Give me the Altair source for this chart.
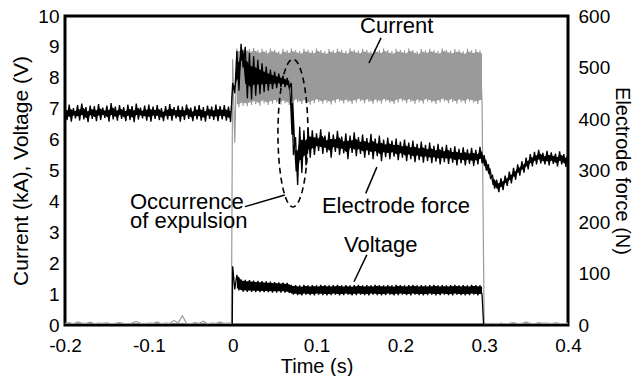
import altair as alt
import numpy as np
import pandas as pd

FONT = "Liberation Sans"

# ---------------- data ----------------
STEP = 0.005

# Electrode force (N), envelope of the noisy trace, t = -0.2 .. 0.4 every 0.005 s
force_t0 = -0.2
force_hi = [424, 428, 421, 427, 430, 423, 426, 425, 429, 422,
            426, 431, 424, 427, 423, 428, 425, 430, 422, 426,
            428, 424, 427, 421, 425, 429, 423, 426, 424, 428,
            422, 425, 427, 423, 426, 424, 428, 425, 427, 424,
            470, 532, 546, 540, 528, 522, 515, 508, 502, 496,
            492, 488, 484, 480, 470, 365, 385, 378, 382,
            378, 372, 380, 368, 375, 370, 377, 366, 372, 368,
            374, 365, 370, 363, 371, 362, 368, 360, 364, 358,
            362, 356, 360, 354, 358, 352, 356, 350, 354, 348,
            352, 346, 350, 344, 347, 342, 345, 341, 344, 340, 346,
            330, 312, 290, 282, 285, 290, 298, 305, 312, 318,
            325, 332, 336, 340, 334, 338, 335, 333, 337, 332, 335]
force_lo = [398, 395, 401, 397, 399, 394, 400, 396, 398, 402,
            395, 399, 397, 400, 396, 398, 394, 399, 401, 397,
            395, 400, 398, 396, 399, 397, 401, 395, 398, 400,
            396, 399, 397, 395, 400, 398, 396, 399, 397, 394,
            450, 455, 500, 440, 438, 445, 448, 452, 455, 458,
            460, 462, 462, 460, 330, 272, 295, 310, 325,
            330, 338, 332, 335, 325, 336, 330, 333, 322, 334,
            328, 332, 325, 330, 322, 328, 318, 326, 322, 327,
            320, 325, 318, 322, 316, 320, 315, 318, 314, 317,
            312, 316, 313, 315, 310, 314, 310, 313, 309, 312, 314,
            300, 285, 265, 258, 262, 270, 275, 282, 290, 296,
            302, 308, 312, 314, 312, 310, 313, 308, 312, 307, 315]

# Current (kA): baseline before and after the weld, band envelope during the weld
cur_pre = [0.05, 0.08, 0.04, 0.10, 0.06, 0.05, 0.09, 0.04, 0.06, 0.05,
           0.07, 0.04, 0.05, 0.08, 0.05, 0.04, 0.06, 0.12, 0.05, 0.04,
           0.06, 0.05, 0.10, 0.04, 0.06, 0.05, 0.15, 0.06, 0.30, 0.05,
           0.04, 0.08, 0.05, 0.12, 0.04, 0.06, 0.05, 0.10, 0.05, 0.06]
cur_hi = [8.60, 8.95, 9.02, 8.98, 8.93, 8.96, 8.90, 8.94, 8.88, 8.95,
          8.91, 8.86, 8.93, 8.89, 8.95, 8.90, 8.87, 8.94, 8.91, 8.88,
          8.95, 8.90, 8.86, 8.93, 8.89, 8.94, 8.90, 8.87, 8.95, 8.91,
          8.88, 8.94, 8.90, 8.86, 8.93, 8.89, 8.95, 8.90, 8.87, 8.94,
          8.91, 8.88, 8.95, 8.90, 8.86, 8.93, 8.89, 8.94, 8.90, 8.87,
          8.95, 8.91, 8.88, 8.93, 8.90, 8.86, 8.94, 8.89, 8.92, 8.88]
cur_lo = [5.90, 7.05, 7.10, 7.08, 7.12, 7.15, 7.10, 7.18, 7.12, 7.16,
          7.20, 7.14, 7.18, 7.12, 7.17, 7.21, 7.15, 7.19, 7.13, 7.18,
          7.22, 7.16, 7.20, 7.14, 7.19, 7.23, 7.17, 7.21, 7.15, 7.20,
          7.24, 7.18, 7.22, 7.16, 7.21, 7.17, 7.23, 7.19, 7.15, 7.20,
          7.24, 7.18, 7.22, 7.16, 7.21, 7.17, 7.23, 7.19, 7.15, 7.20,
          7.24, 7.18, 7.22, 7.16, 7.21, 7.17, 7.23, 7.19, 7.15, 7.20]
cur_post = [0.02, 0.04, 0.05, 0.03, 0.06, 0.04, 0.05, 0.08, 0.04, 0.05,
            0.10, 0.05, 0.04, 0.08, 0.05, 0.06, 0.04, 0.07, 0.05, 0.04, 0.06]

# Voltage (V): band envelope during the weld, t = 0 .. 0.295
volt_hi = [1.90, 1.62, 1.48, 1.46, 1.45, 1.44, 1.43, 1.42, 1.41, 1.40,
           1.39, 1.38, 1.37, 1.36, 1.30, 1.29, 1.28, 1.30, 1.28, 1.29,
           1.28, 1.30, 1.29, 1.28, 1.29, 1.30, 1.28, 1.29, 1.28, 1.29,
           1.30, 1.28, 1.29, 1.28, 1.30, 1.29, 1.28, 1.29, 1.28, 1.30,
           1.29, 1.28, 1.29, 1.30, 1.28, 1.29, 1.28, 1.29, 1.30, 1.28,
           1.29, 1.28, 1.29, 1.30, 1.28, 1.29, 1.28, 1.30, 1.29, 1.28]
volt_lo = [1.15, 1.12, 1.08, 1.07, 1.07, 1.06, 1.06, 1.06, 1.06, 1.05,
           1.05, 1.05, 1.05, 1.04, 0.98, 0.97, 0.96, 0.98, 0.97, 0.96,
           0.98, 0.97, 0.96, 0.97, 0.98, 0.96, 0.97, 0.98, 0.96, 0.97,
           0.98, 0.97, 0.96, 0.98, 0.97, 0.96, 0.97, 0.98, 0.96, 0.97,
           0.98, 0.97, 0.96, 0.98, 0.97, 0.96, 0.97, 0.98, 0.96, 0.97,
           0.98, 0.97, 0.96, 0.98, 0.97, 0.96, 0.97, 0.98, 0.96, 0.97]

# annotations (left-axis units)
label_text = ["Current", "Electrode force", "Voltage", "Occurrence\nof expulsion"]
label_t = [0.1519, 0.1065, 0.1328, -0.1225]
label_y = [9.68, 3.85, 2.60, 3.99]

leader_t = [0.177, 0.172, 0.160, 0.0147]
leader_y = [9.29, 5.11, 2.27, 3.83]
leader_t2 = [0.1626, 0.1587, 0.1447, 0.0623]
leader_y2 = [8.48, 4.26, 1.40, 4.21]

ellipse_center = (0.0719, 6.21)
ellipse_radii = (0.0179, 2.39)

x_ticks = [-0.2, -0.1, 0.0, 0.1, 0.2, 0.3, 0.4]
y_left_ticks = list(range(0, 11))
y_right_ticks = [0, 100, 200, 300, 400, 500, 600]


# ---------------- tables ----------------
def zigzag(t0, hi, lo):
    rows = []
    for k, (h, l) in enumerate(zip(hi, lo)):
        t = t0 + k * STEP
        rows.append((round(t, 5), h))
        rows.append((round(t + STEP / 2, 5), l))
    return rows


def core_band(t0, hi, lo, inset):
    """solid inner part of a noisy band (inset = fraction of the envelope removed at each edge)"""
    rows = []
    for k, (h, l) in enumerate(zip(hi, lo)):
        t = t0 + k * STEP
        r = h - l
        rows.append((round(t, 5), l + inset * r, h - inset * r))
        rows.append((round(t + STEP / 2, 5), l + inset * r, h - inset * r))
    return rows


# force
force_df = pd.DataFrame(zigzag(force_t0, force_hi, force_lo), columns=["t", "f"])
force_df["i"] = range(len(force_df))
force_core = pd.DataFrame(core_band(force_t0, force_hi, force_lo, 0.28), columns=["t", "f", "f2"])

# current
cur_rows = [(round(-0.2 + k * STEP, 5), v) for k, v in enumerate(cur_pre)]
cur_rows.append((-0.0015, 0.05))
cur_rows += zigzag(0.0, cur_hi, cur_lo)
cur_rows += [(round(0.3 + k * STEP, 5), v) for k, v in enumerate(cur_post)]
cur_df = pd.DataFrame(cur_rows, columns=["t", "y"])
cur_df["i"] = range(len(cur_df))
cur_core = pd.DataFrame(core_band(0.0, cur_hi[1:], cur_lo[1:], 0.05), columns=["t", "y", "y2"])
cur_core["t"] = cur_core["t"] + STEP

# voltage
volt_rows = [(-0.2, 0.0), (-0.0005, 0.0)]
volt_rows += zigzag(0.0, volt_hi, volt_lo)
volt_rows += [(0.2995, -0.08), (0.3005, 0.0), (0.4, 0.0)]
volt_df = pd.DataFrame(volt_rows, columns=["t", "y"])
volt_df["i"] = range(len(volt_df))
volt_core = pd.DataFrame(core_band(0.0, volt_hi[1:], volt_lo[1:], 0.12), columns=["t", "y", "y2"])
volt_core["t"] = volt_core["t"] + STEP

# ellipse outline (annotation shape)
ang = np.linspace(0, 2 * np.pi, 97)
ell_df = pd.DataFrame({
    "t": ellipse_center[0] + ellipse_radii[0] * np.cos(ang),
    "y": ellipse_center[1] + ellipse_radii[1] * np.sin(ang),
    "i": range(len(ang)),
})

lab_df = pd.DataFrame({"t": label_t, "y": label_y, "txt": label_text})
lead_df = pd.DataFrame({"t": leader_t, "y": leader_y, "t2": leader_t2, "y2": leader_y2})

# ---------------- encodings ----------------
x_enc = alt.X(
    "t:Q",
    scale=alt.Scale(domain=[-0.2, 0.4], nice=False, zero=False),
    axis=alt.Axis(
        values=x_ticks,
        labelExpr="datum.value == 0 ? '0' : (datum.value < 0 ? '-' + format(-datum.value, '.1f') : format(datum.value, '.1f'))",
        labelFlush=False,
        title="Time (s)",
        labelPadding=11,
        titlePadding=1,
    ),
)
y_left = alt.Y(
    "y:Q",
    scale=alt.Scale(domain=[0, 10], nice=False),
    axis=alt.Axis(
        values=y_left_ticks,
        title="Current (kA), Voltage (V)",
        titleFontSize=21,
        labelPadding=6,
        titlePadding=6,
    ),
)
y_right = alt.Y(
    "f:Q",
    scale=alt.Scale(domain=[0, 600], nice=False),
    axis=alt.Axis(
        orient="right",
        values=y_right_ticks,
        title="Electrode force (N)",
        labelPadding=10,
        titlePadding=2,
    ),
)

GRAY = "#9a9a9a"
current_core = alt.Chart(cur_core).mark_area(color=GRAY, opacity=1, clip=True).encode(
    x=x_enc, y=y_left, y2="y2:Q")
current = alt.Chart(cur_df).mark_line(color=GRAY, strokeWidth=1.2, clip=True).encode(
    x=x_enc, y=y_left, order="i:Q")
voltage_core = alt.Chart(volt_core).mark_area(color="black", opacity=1, clip=True).encode(
    x=x_enc, y=y_left, y2="y2:Q")
voltage = alt.Chart(volt_df).mark_line(color="black", strokeWidth=1.3, clip=True).encode(
    x=x_enc, y=y_left, order="i:Q")
ellipse = alt.Chart(ell_df).mark_line(color="black", strokeWidth=1.6, strokeDash=[6, 4]).encode(
    x=x_enc, y=y_left, order="i:Q")
leaders = alt.Chart(lead_df).mark_rule(color="black", strokeWidth=1.5).encode(
    x=x_enc, y=y_left, x2="t2:Q", y2="y2:Q")
labels = alt.Chart(lab_df).mark_text(
    font=FONT, fontSize=22, align="left", baseline="middle", color="black",
    lineBreak="\n", lineHeight=19,
).encode(x=x_enc, y=y_left, text="txt:N")

left = alt.layer(current_core, current, voltage_core, voltage, ellipse, leaders, labels)

force_band = alt.Chart(force_core).mark_area(color="black", opacity=1, clip=True).encode(
    x=x_enc, y=y_right, y2="f2:Q")
force = alt.Chart(force_df).mark_line(color="black", strokeWidth=1.3, clip=True).encode(
    x=x_enc, y=y_right, order="i:Q")
right = alt.layer(force_band, force)

chart = (
    alt.layer(left, right)
    .resolve_scale(y="independent")
    .properties(
        width=503,
        height=309,
        autosize=alt.AutoSizeParams(type="none"),
        padding={"left": 57, "top": 8, "right": 64, "bottom": 51},
    )
    .configure_view(stroke="black", strokeWidth=3)
    .configure_axis(
        labelFont=FONT,
        titleFont=FONT,
        labelFontSize=19,
        titleFontSize=20,
        titleFontWeight="normal",
        labelColor="black",
        titleColor="black",
        domain=False,
        ticks=False,
        grid=False,
    )
)

chart.save("out.html", embed_options={"renderer": "svg", "actions": False})
